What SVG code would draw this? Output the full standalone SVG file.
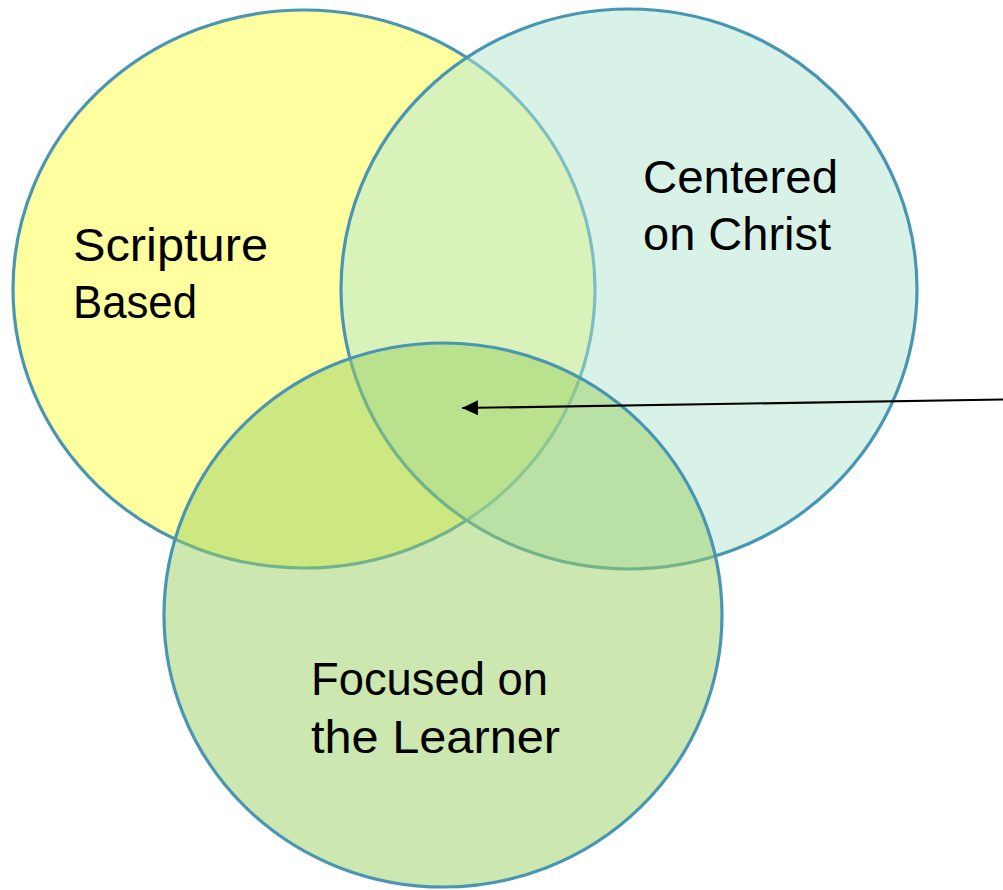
<svg xmlns="http://www.w3.org/2000/svg" width="1003" height="890" viewBox="0 0 1003 890">
  <style>
    .circle { stroke: #4896B4; stroke-width: 3.2; }
    .label { font-family: "Liberation Sans", Arial, sans-serif; font-size: 47px; fill: #000000; }
    .conn { stroke: #000000; stroke-width: 2.2; fill: none; }
  </style>
  <defs>
    <marker id="arrow" markerUnits="userSpaceOnUse" markerWidth="18" markerHeight="16" refX="16" refY="8" orient="auto" viewBox="0 0 18 16">
      <path d="M0,0.5 L16,8 L0,15.5 Z" fill="#000000"/>
    </marker>
  </defs>
  <rect width="1003" height="890" fill="#FFFFFF"/>
  <g id="scripture">
    <ellipse class="circle" cx="304" cy="289" rx="291" ry="279" fill="#FFFFA0"/>
    <text class="label" x="73" y="261" textLength="195" lengthAdjust="spacingAndGlyphs">Scripture</text>
    <text class="label" x="73" y="318" textLength="124" lengthAdjust="spacingAndGlyphs">Based</text>
  </g>
  <g id="christ">
    <ellipse class="circle" cx="629" cy="289" rx="288" ry="280" fill="#B1E5D1" fill-opacity="0.5"/>
    <text class="label" x="643" y="193" textLength="195" lengthAdjust="spacingAndGlyphs">Centered</text>
    <text class="label" x="643" y="250">on Christ</text>
  </g>
  <g id="learner">
    <ellipse class="circle" cx="443" cy="615" rx="279" ry="272" fill="#9BCF61" fill-opacity="0.5"/>
    <text class="label" x="311" y="695" textLength="237" lengthAdjust="spacingAndGlyphs">Focused on</text>
    <text class="label" x="311" y="753" textLength="249" lengthAdjust="spacingAndGlyphs">the Learner</text>
  </g>
  <g id="connectors">
    <line class="conn" x1="1010" y1="399.4" x2="462" y2="408" marker-end="url(#arrow)"/>
  </g>
</svg>
